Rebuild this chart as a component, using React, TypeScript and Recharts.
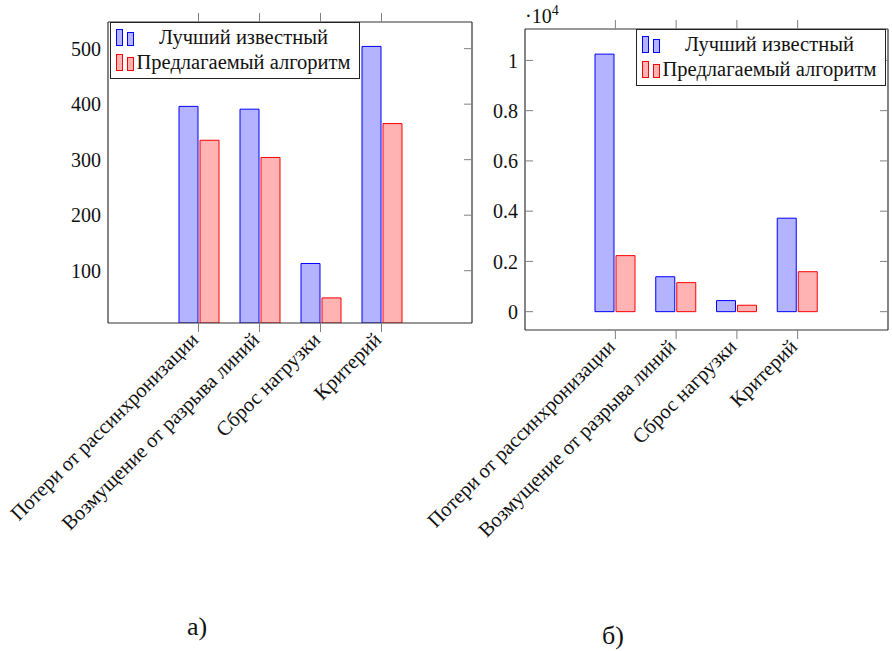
import { BarChart, Bar, XAxis, YAxis, Legend, Label } from "recharts";

const categories = [
  "Потери от рассинхронизации",
  "Возмущение от разрыва линий",
  "Сброс нагрузки",
  "Критерий",
];
const seriesNames = ["Лучший известный", "Предлагаемый алгоритм"];

// panel a)
const bestKnownA = [396, 391, 113, 504];
const proposedA = [335, 304, 51, 365];
const yTicksA = [100, 200, 300, 400, 500];

// panel b)  (values, axis shown in units of 10^4)
const bestKnownB = [10250, 1390, 440, 3720];
const proposedB = [2230, 1155, 255, 1590];
const yTicksB = [0, 2000, 4000, 6000, 8000, 10000];

const FONT = "Liberation Serif";
const BLUE = "#0000ff";
const BLUE_FILL = "#b3b3ff";
const RED = "#ff0000";
const RED_FILL = "#ffb3b3";
const FRAME = "#333";
const TICK = "#808080";

const makeRows = (best: number[], proposed: number[]) =>
  categories.map((name, i) => ({ name, best: best[i], proposed: proposed[i] }));

function LegendBox() {
  const rows = [
    { name: seriesNames[0], stroke: BLUE, fill: BLUE_FILL },
    { name: seriesNames[1], stroke: RED, fill: RED_FILL },
  ];
  return (
    <div
      style={{
        boxSizing: "border-box",
        width: 250,
        height: 57,
        border: "1px solid #222",
        background: "#fff",
        paddingTop: 2,
        fontFamily: FONT,
        fontSize: 20.5,
        color: "#111",
      }}
    >
      {rows.map((r) => (
        <div key={r.name} style={{ display: "flex", alignItems: "center", height: 25 }}>
          <svg width={20} height={20} style={{ marginLeft: 5, flex: "none" }}>
            <rect x={0.5} y={1.5} width={6} height={16} fill={r.fill} stroke={r.stroke} />
            <rect x={11.5} y={4.5} width={6} height={13} fill={r.fill} stroke={r.stroke} />
          </svg>
          <div style={{ flex: 1, textAlign: "center", paddingRight: 8, whiteSpace: "nowrap" }}>
            {r.name}
          </div>
        </div>
      ))}
    </div>
  );
}

function RotatedTick(props: any) {
  const { x, y, payload } = props;
  const ax = x - 4;
  const ay = y + 4;
  return (
    <text
      x={ax}
      y={ay}
      transform={`rotate(-45 ${ax} ${ay})`}
      textAnchor="end"
      dominantBaseline="central"
      fontFamily={FONT}
      fontSize={20.5}
      fill="#111"
    >
      {payload.value}
    </text>
  );
}

type PanelProps = {
  rows: { name: string; best: number; proposed: number }[];
  domain: [number, number];
  ticks: number[];
  fmt?: (v: number) => string;
  width: number;
  height: number;
  margin: { top: number; right: number; bottom: number; left: number };
  legendLeft: number;
  legendTop: number;
  leftTicks: boolean;
  exponent?: string;
};

function Panel(p: PanelProps) {
  const tickStyle = { fontFamily: FONT, fontSize: 20, fill: "#111" };
  // axes take 1px each, so the margins are trimmed by that amount
  const m = {
    top: p.margin.top - 1,
    bottom: p.margin.bottom - 1,
    left: p.margin.left - 1,
    right: p.margin.right - 1,
  };
  return (
    <BarChart
      width={p.width}
      height={p.height}
      data={p.rows}
      margin={m}
      barSize={19}
      barGap={2}
      style={{ fontFamily: FONT }}
    >
      <XAxis
        dataKey="name"
        xAxisId="bottom"
        orientation="bottom"
        height={1}
        padding={{ left: 60, right: 60 }}
        interval={0}
        tickSize={9}
        tickMargin={0}
        tickLine={{ stroke: TICK }}
        axisLine={{ stroke: FRAME, strokeWidth: 1.2 }}
        tick={<RotatedTick />}
      />
      <XAxis
        dataKey="name"
        xAxisId="top"
        orientation="top"
        height={1}
        padding={{ left: 60, right: 60 }}
        interval={0}
        tickSize={9}
        tickLine={{ stroke: TICK }}
        axisLine={{ stroke: FRAME, strokeWidth: 1.2 }}
        tick={() => <g />}
      />
      <YAxis
        yAxisId="l"
        orientation="left"
        width={1}
        type="number"
        domain={p.domain}
        allowDataOverflow
        ticks={p.ticks}
        interval={0}
        tickFormatter={p.fmt}
        tickSize={p.leftTicks ? -8 : 0}
        tickMargin={p.leftTicks ? 15 : 7}
        tickLine={p.leftTicks ? { stroke: TICK } : false}
        axisLine={{ stroke: FRAME, strokeWidth: 1.2 }}
        tick={tickStyle}
      >
        {p.exponent && (
          <Label
            content={(lp: any) => {
              const vb = lp.viewBox || { x: 0, y: 0 };
              return (
                <text x={vb.x + 1} y={vb.y - 6} fontFamily={FONT} fontSize={20} fill="#111">
                  {"·10"}
                  <tspan dy={-8} fontSize={14}>
                    {p.exponent}
                  </tspan>
                </text>
              );
            }}
          />
        )}
      </YAxis>
      <YAxis
        yAxisId="r"
        orientation="right"
        width={1}
        type="number"
        domain={p.domain}
        allowDataOverflow
        ticks={p.ticks}
        interval={0}
        mirror
        tickSize={8}
        tickLine={{ stroke: TICK }}
        axisLine={{ stroke: FRAME, strokeWidth: 1.2 }}
        tick={() => <g />}
      />
      <Legend
        layout="horizontal"
        verticalAlign="middle"
        align="center"
        content={() => <LegendBox />}
        wrapperStyle={{ left: p.legendLeft, top: p.legendTop, width: "auto" }}
      />
      <Bar
        dataKey="best"
        name={seriesNames[0]}
        xAxisId="bottom"
        yAxisId="l"
        fill={BLUE_FILL}
        stroke={BLUE}
        strokeWidth={1}
        isAnimationActive={false}
      />
      <Bar
        dataKey="proposed"
        name={seriesNames[1]}
        xAxisId="bottom"
        yAxisId="l"
        fill={RED_FILL}
        stroke={RED}
        strokeWidth={1}
        isAnimationActive={false}
      />
    </BarChart>
  );
}

export default function App() {
  return (
    <div
      style={{
        position: "absolute",
        left: 0,
        top: 0,
        width: 892,
        height: 651,
        background: "#fff",
        fontFamily: FONT,
      }}
    >
      <div style={{ position: "absolute", left: 0, top: 0 }}>
        <Panel
          rows={makeRows(bestKnownA, proposedA)}
          domain={[5.8, 548]}
          ticks={yTicksA}
          width={480}
          height={600}
          margin={{ top: 22, right: 9, bottom: 277, left: 108 }}
          legendLeft={110}
          legendTop={22}
          leftTicks={false}
        />
      </div>
      <div style={{ position: "absolute", left: 400, top: 0 }}>
        <Panel
          rows={makeRows(bestKnownB, proposedB)}
          domain={[-730, 11250]}
          ticks={yTicksB}
          fmt={(v: number) => String(v / 10000)}
          width={492}
          height={600}
          margin={{ top: 29, right: 5, bottom: 270, left: 125 }}
          legendLeft={236}
          legendTop={29}
          leftTicks={true}
          exponent="4"
        />
      </div>
      <div
        style={{
          position: "absolute",
          left: 147,
          width: 100,
          top: 614,
          textAlign: "center",
          fontSize: 26,
          lineHeight: 1,
          color: "#111",
        }}
      >
        а)
      </div>
      <div
        style={{
          position: "absolute",
          left: 563,
          width: 100,
          top: 623,
          textAlign: "center",
          fontSize: 26,
          lineHeight: 1,
          color: "#111",
        }}
      >
        б)
      </div>
    </div>
  );
}
